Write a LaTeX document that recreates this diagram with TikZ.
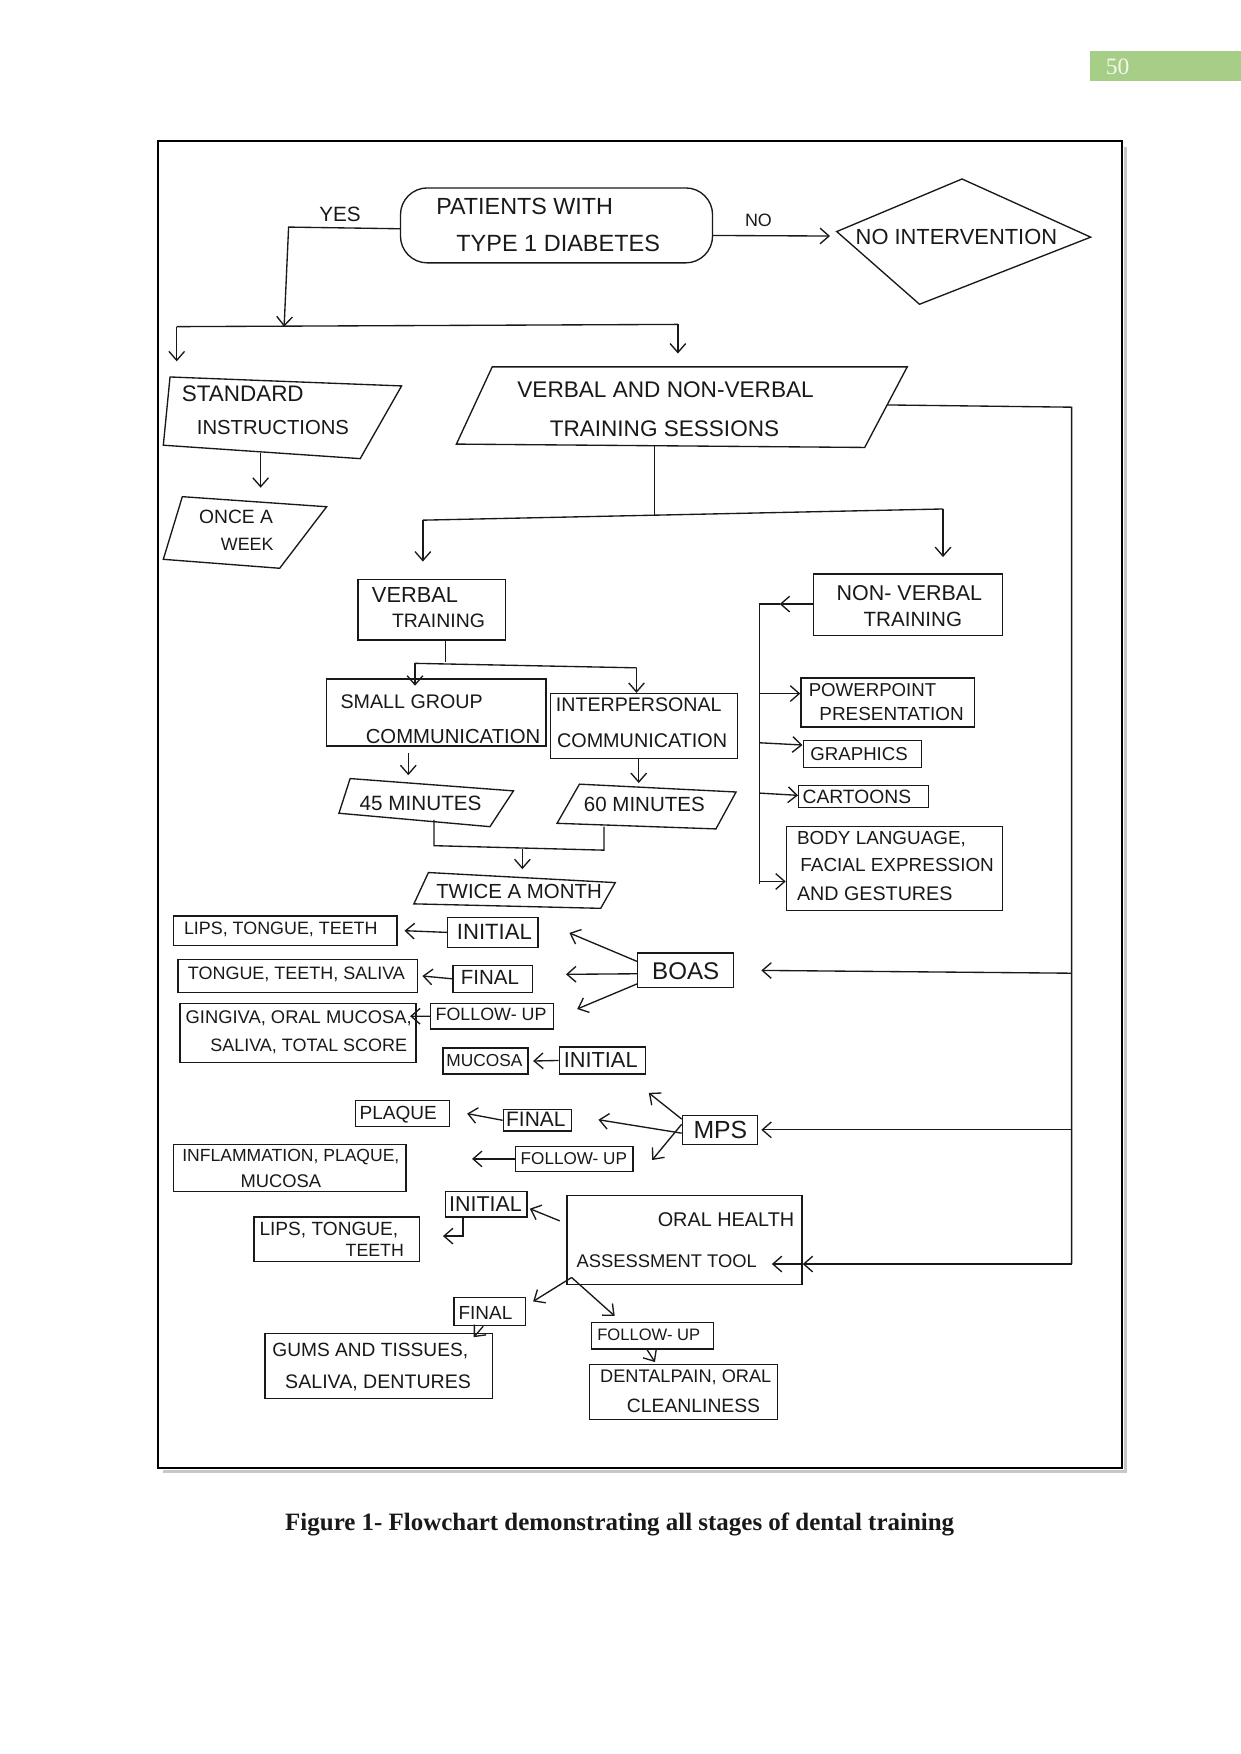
\documentclass[tikz,border=0pt]{standalone}
\usepackage{fontspec}
\setmainfont{Liberation Sans}
\newfontfamily\seriffont{Liberation Serif}
\usepackage{graphicx}
\usetikzlibrary{arrows.meta,fit,calc}
\definecolor{pgreen}{RGB}{166,206,134}
\definecolor{pnumtext}{RGB}{242,248,236}
\definecolor{ink}{RGB}{25,25,25}
\newcommand\fw[2]{\resizebox{#1pt}{!}{#2}}
\begin{document}
\begin{tikzpicture}[x=1pt,y=-1pt,line width=1.2pt,color=ink,
  bx/.style={draw=ink,inner sep=0pt,line width=1.2pt},
  tx/.style={inner sep=0pt,text=ink},
  arr/.style={draw=ink,-{Straight Barb[length=8pt,width=14pt,line width=1.2pt]}},
  ln/.style={draw=ink}]
\useasboundingbox (0,0) rectangle (1109,1568);
\fill[white] (0,0) rectangle (1109,1568);

% page number
\fill[pgreen] (974,46) rectangle (1109,72);
\node[tx,text=pnumtext,font=\seriffont\fontsize{21}{21}\selectfont] (pnum) at (999,60) {50};

% frame
\draw[black!22,line width=3pt] (146,1315.5) -- (1006,1315.5) -- (1006,131);
\draw[black,line width=1.8pt] (141,126) rectangle (1003,1312);

% caption
\node[tx] (cap) at (554,1363) {\fw{598}{\seriffont\bfseries Figure 1- Flowchart demonstrating all stages of dental training}};

% ---------- top ----------
\node[bx,rounded corners=24pt,fit={(358,168) (637,235)}] (pat) {};
\node[tx] (tpat1) at (469,185) {\fw{158}{PATIENTS WITH}};
\node[tx] (tpat2) at (499,218) {\fw{182}{TYPE 1 DIABETES}};

\coordinate (dT) at (860,160);
\coordinate (dR) at (975,212);
\coordinate (dB) at (822,272);
\coordinate (dL) at (748,207);
\draw[ln] (dT) -- (dR) -- (dB) -- (dL) -- cycle;
\node[tx] (tnoint) at (855,212) {\fw{180}{NO INTERVENTION}};

\draw[arr] ([yshift=-9pt]pat.east) -- ($(dL)+(-6,4)$);
\node[tx] (tno) at (678,197) {\fw{24}{NO}};

\coordinate (yesA) at (258,203);
\coordinate (yesB) at (254,292);
\draw[arr] ([yshift=-3pt]pat.west) -- (yesA) -- (yesB);
\node[tx] (tyes) at (304,192) {\fw{37}{YES}};

\coordinate (splL) at (158,292);
\coordinate (splR) at (606,290);
\draw[ln] (splL) -- (splR);

% standard instructions
\coordinate (s1) at (152,337);
\coordinate (s2) at (359,345);
\coordinate (s3) at (322,410);
\coordinate (s4) at (146,398);
\draw[ln] (s1) -- (s2) -- (s3) -- (s4) -- cycle;
\node[tx] (tstd1) at (217,352) {\fw{109}{STANDARD}};
\node[tx] (tstd2) at (244,382) {\fw{136}{INSTRUCTIONS}};
\draw[arr] (splL) -- ($(s1)+(6,-14)$);

% once a week
\coordinate (o1) at (163,444);
\coordinate (o2) at (292,453);
\coordinate (o3) at (250,508);
\coordinate (o4) at (146,500);
\draw[ln] (o1) -- (o2) -- (o3) -- (o4) -- cycle;
\node[tx] (tonce1) at (211,462) {\fw{66}{ONCE A}};
\node[tx] (tonce2) at (221,487) {\fw{47}{WEEK}};
\draw[arr] (233,405) -- (233,436);

% verbal and non-verbal sessions
\coordinate (v1) at (440,328);
\coordinate (v2) at (811,328);
\coordinate (v3) at (773,400);
\coordinate (v4) at (408,397);
\draw[ln] (v1) -- (v2) -- (v3) -- (v4) -- cycle;
\node[tx] (tvnv1) at (595,348) {\fw{265}{VERBAL AND NON-VERBAL}};
\node[tx] (tvnv2) at (594,383) {\fw{205}{TRAINING SESSIONS}};
\draw[arr] (splR) -- ($(splR)+(0,26)$);

% right vertical bus
\coordinate (vnvR) at (793,362);
\coordinate (rTop) at (958,364);
\coordinate (rBot) at (958,1130);
\draw[ln] (vnvR) -- (rTop) -- (rBot);

% split verbal / non-verbal
\coordinate (vB) at (585,399);
\coordinate (vJ) at (585,461);
\coordinate (hL) at (378,465);
\coordinate (hR) at (843,455);
\draw[ln] (vB) -- (vJ);
\draw[ln] (hL) -- (hR);

\node[bx,fit={(320,518) (452,572)}] (vt) {};
\node[tx] (tvt1) at (371,532) {\fw{77}{VERBAL}};
\node[tx] (tvt2) at (392,555) {\fw{83}{TRAINING}};
\node[bx,fit={(727,513) (896,568)}] (nvt) {};
\node[tx] (tnvt1) at (813,530) {\fw{130}{NON- VERBAL}};
\node[tx] (tnvt2) at (816,554) {\fw{88}{TRAINING}};
\draw[arr] (hL) -- ($(hL)+(0,37)$);
\draw[arr] (hR) -- ($(hR)+(0,43)$);

% verbal training children
\coordinate (vtB) at (398,572);
\coordinate (vtJ) at (398,592);
\coordinate (h2L) at (371,593);
\coordinate (h2R) at (569,597);
\draw[ln] (vtB) -- (vtJ);
\draw[ln] (h2L) -- (h2R);
\node[bx,fit={(292,607) (488,667)}] (sg) {};
\node[tx] (tsg1) at (368,627) {\fw{127}{SMALL GROUP}};
\node[tx] (tsg2) at (405,658) {\fw{156}{COMMUNICATION}};
\node[bx,fit={(492,620) (659,678)}] (ip) {};
\node[tx] (tip1) at (571,630) {\fw{148}{INTERPERSONAL}};
\node[tx] (tip2) at (574,662) {\fw{152}{COMMUNICATION}};
\draw[arr] (h2L) -- ($(h2L)+(0,20)$);
\draw[arr] (h2R) -- (ip.north -| h2R);

% minutes
\coordinate (m1) at (313,696);
\coordinate (m2) at (459,707);
\coordinate (m3) at (438,739);
\coordinate (m4) at (303,727);
\draw[ln] (m1) -- (m2) -- (m3) -- (m4) -- cycle;
\node[tx] (t45) at (376,718) {\fw{109}{45 MINUTES}};
\coordinate (n1) at (518,701);
\coordinate (n2) at (658,708);
\coordinate (n3) at (640,741);
\coordinate (n4) at (498,736);
\draw[ln] (n1) -- (n2) -- (n3) -- (n4) -- cycle;
\node[tx] (t60) at (576,719) {\fw{108}{60 MINUTES}};
\draw[arr] (365,673) -- (365,693);
\draw[arr] (571,678) -- (571,700);

\coordinate (j1) at (388,733);
\coordinate (j2) at (388,756);
\coordinate (j3) at (540,760);
\coordinate (j4) at (540,739);
\draw[ln] (j1) -- (j2) -- (j3) -- (j4);

\coordinate (w1) at (383,780);
\coordinate (w2) at (550,789);
\coordinate (w3) at (537,812);
\coordinate (w4) at (370,808);
\draw[ln] (w1) -- (w2) -- (w3) -- (w4) -- cycle;
\node[tx] (ttwice) at (464,797) {\fw{148}{TWICE A MONTH}};
\draw[arr] (467,759) -- (467,777);

% non-verbal children
\node[bx,fit={(716,606) (871,650)}] (pp) {};
\node[tx] (tpp1) at (780,617) {\fw{114}{POWERPOINT}};
\node[tx] (tpp2) at (797,638) {\fw{129}{PRESENTATION}};
\node[bx,fit={(718,662) (824,686)}] (gr) {};
\node[tx] (tgr) at (768,674) {\fw{87}{GRAPHICS}};
\node[bx,fit={(714,702) (830,722)}] (ca) {};
\node[tx] (tca) at (766,712) {\fw{97}{CARTOONS}};
\node[bx,fit={(703,739) (896,814)}] (bl) {};
\node[tx] (tbl1) at (788,750) {\fw{151}{BODY LANGUAGE,}};
\node[tx] (tbl2) at (802,773) {\fw{173}{FACIAL EXPRESSION}};
\node[tx] (tbl3) at (782,799) {\fw{139}{AND GESTURES}};

\coordinate (nvL) at (679,540);
\coordinate (nvB) at (679,790);
\draw[arr] (nvt.west |- nvL) -- ($(nvL)+(18,0)$);
\draw[ln] ($(nvL)+(18,0)$) -- (nvL) -- (nvB);
\draw[arr] (679,620) -- (pp.west |- 0,620);
\draw[arr] (679,664) -- (gr.west |- 0,666);
\draw[arr] (679,709) -- (ca.west |- 0,711);
\draw[arr] (679,788) -- (bl.west |- 0,788);

% ---------- BOAS ----------
\node[bx,fit={(570,852) (656,883)}] (boas) {};
\node[tx] (tboas) at (613,868) {\fw{60}{BOAS}};
\draw[arr] (rBot |- 0,870) -- ([xshift=24pt]boas.east);
\node[bx,fit={(400,820) (481,847)}] (init1) {};
\node[tx] (tinit1) at (442,833) {\fw{67}{INITIAL}};
\node[bx,fit={(155,819) (355,845)}] (lips) {};
\node[tx] (tlips) at (251,831) {\fw{173}{LIPS, TONGUE, TEETH}};
\node[bx,fit={(405,863) (476,887)}] (fin1) {};
\node[tx] (tfin1) at (438,874) {\fw{52}{FINAL}};
\node[bx,fit={(159,858) (373,887)}] (tts) {};
\node[tx] (ttts) at (265,871) {\fw{194}{TONGUE, TEETH, SALIVA}};
\node[bx,fit={(385,897) (495,920)}] (fu1) {};
\node[tx] (tfu1) at (439,907) {\fw{99}{FOLLOW- UP}};
\node[bx,fit={(161,897) (372,950)}] (ging) {};
\node[tx] (tging1) at (267,910) {\fw{202}{GINGIVA, ORAL MUCOSA,}};
\node[tx] (tging2) at (276,935) {\fw{176}{SALIVA, TOTAL SCORE}};
\node[bx,fit={(500,936) (577,960)}] (init2) {};
\node[tx] (tinit2) at (537,948) {\fw{66}{INITIAL}};
\node[bx,fit={(396,937) (472,960)}] (muc) {};
\node[tx] (tmuc) at (433,948) {\fw{68}{MUCOSA}};

\draw[arr] ([yshift=-8pt]boas.north west) -- (509,834);
\draw[arr] ([yshift=-3pt]boas.west) -- (506,871);
\draw[arr] ([yshift=4pt]boas.south west) -- (516,902);
\draw[arr] (init1.west) -- ([xshift=6pt]lips.east);
\draw[arr] (fin1.west) -- ([xshift=4pt]tts.east);
\draw[arr] (fu1.west) -- ($(ging.north east)+(-6,12)$);
\draw[arr] (init2.west) -- ([xshift=4pt]muc.east);

% ---------- MPS ----------
\node[bx,fit={(610,997) (677,1023)}] (mps) {};
\node[tx] (tmps) at (644,1010) {\fw{48}{MPS}};
\draw[arr] (rBot |- 0,1010) -- ([xshift=3pt]mps.east);
\node[bx,fit={(318,984) (402,1007)}] (plaq) {};
\node[tx] (tplaq) at (356,996) {\fw{69}{PLAQUE}};
\node[bx,fit={(450,992) (511,1011)}] (fin2) {};
\node[tx] (tfin2) at (479,1001) {\fw{53}{FINAL}};
\node[bx,fit={(461,1025) (566,1047)}] (fu2) {};
\node[tx] (tfu2) at (513,1036) {\fw{95}{FOLLOW- UP}};
\node[bx,fit={(155,1023) (363,1065)}] (infl) {};
\node[tx] (tinfl1) at (260,1034) {\fw{194}{INFLAMMATION, PLAQUE,}};
\node[tx] (tinfl2) at (251,1056) {\fw{72}{MUCOSA}};

\draw[arr] ([yshift=-4pt]mps.north west) -- (580,977);
\draw[arr] ([yshift=-3pt]mps.west) -- (535,1001);
\draw[arr] ([yshift=5pt]mps.west) -- (583,1037);
\draw[arr] (fin2.west) -- ([xshift=15pt]plaq.east);
\draw[arr] (fu2.west) -- (422,1036);

% ---------- OHAT ----------
\node[bx,fit={(507,1069) (717,1148)}] (oh) {};
\node[tx] (toh1) at (649,1090) {\fw{122}{ORAL HEALTH}};
\node[tx] (toh2) at (596,1127) {\fw{161}{ASSESSMENT TOOL}};
\draw[arr] (rBot) -- (oh.east |- rBot);
\draw[arr] (oh.east |- rBot) -- (690,1130);

\node[bx,fit={(398,1065) (471,1088)}] (init3) {};
\node[tx] (tinit3) at (434,1076) {\fw{65}{INITIAL}};
\node[bx,fit={(227,1088) (375,1128)}] (ltt) {};
\node[tx] (tltt1) at (294,1100) {\fw{124}{LIPS, TONGUE,}};
\node[tx] (tltt2) at (335,1118) {\fw{52}{TEETH}};
\node[bx,fit={(406,1160) (470,1185)}] (fin3) {};
\node[tx] (tfin3) at (434,1174) {\fw{48}{FINAL}};
\node[bx,fit={(237,1192) (440,1250)}] (gum) {};
\node[tx] (tgum1) at (331,1208) {\fw{175}{GUMS AND TISSUES,}};
\node[tx] (tgum2) at (338,1236) {\fw{166}{SALIVA, DENTURES}};
\node[bx,fit={(529,1182) (638,1206)}] (fu3) {};
\node[tx] (tfu3) at (580,1193) {\fw{92}{FOLLOW- UP}};
\node[bx,fit={(527,1220) (695,1269)}] (dp) {};
\node[tx] (tdp1) at (613,1231) {\fw{153}{DENTALPAIN, ORAL}};
\node[tx] (tdp2) at (620,1257) {\fw{119}{CLEANLINESS}};

\draw[arr] ($(oh.north west)+(-6,23)$) -- ([xshift=2pt,yshift=-4pt]init3.east);
\coordinate (i3a) at (414,1088);
\coordinate (i3b) at (414,1105);
\draw[arr] (i3a) -- (i3b) -- (396,1105);
\coordinate (ohBL) at (511,1142);
\draw[arr] (ohBL) -- ($(fin3.north east)+(6,4)$);
\draw[arr] (ohBL) -- ($(fu3.north)+(-34,-5)$);
\draw[arr] ([xshift=-6pt]fin3.south) -- ($(gum.north)+(85,4)$);
\draw[arr] ([xshift=-5pt]fu3.south) -- ($(fu3.south)+(2,11)$);
\end{tikzpicture}
\end{document}
